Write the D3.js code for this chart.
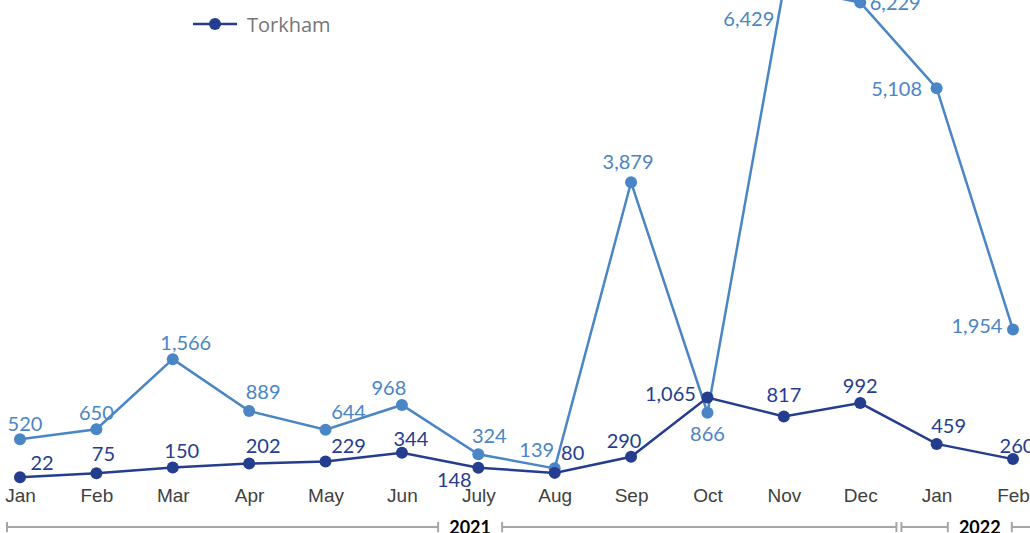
<!DOCTYPE html>
<html>
<head>
<meta charset="utf-8">
<script src="https://cdn.jsdelivr.net/npm/d3@7"></script>
<style>
  body { margin: 0; background: #fff; }
  svg { display: block; font-family: Lato, "Open Sans", sans-serif; }
  .month text { font-size: 19px; fill: #404040; }
  .val { font-size: 20px; }
  .year { font-size: 18px; font-weight: bold; fill: #000; }
  .legend-text { font-family: "Open Sans", sans-serif; font-size: 20px; fill: #767676; }
</style>
</head>
<body>
<div id="chart"></div>
<script>
const months = ['Jan', 'Feb', 'Mar', 'Apr', 'May', 'Jun', 'July', 'Aug', 'Sep', 'Oct', 'Nov', 'Dec', 'Jan', 'Feb'];
const years = [
  { label: '2021', start: 0, end: 11 },
  { label: '2022', start: 12, end: 13 },
];
const torkham = [22, 75, 150, 202, 229, 344, 148, 80, 290, 1065, 817, 992, 459, 260];
const otherCrossing = [520, 650, 1566, 889, 644, 968, 324, 139, 3879, 866, 6429, 6229, 5108, 1954];

// where each value label sits relative to its point
const torkhamLabelOffset = [[22, -15], [7, -20], [9, -18], [14, -19], [23, -16], [9, -15], [-24, 11],
  [18, -21], [-7, -17], [-37, -5], [0, -22], [0, -18], [12, -19], [4, -14]];
const otherLabelOffset = [[5, -16], [0, -17], [13, -17], [14, -20], [23, -19], [-13, -18], [11, -19],
  [-18, -19], [-3, -21], [0, 20], [-35, 31], [35, 0], [-40, 0], [-36, -5]];
const yearLabelShift = [30, 5];

const width = 1030;
const height = 533;
const darkBlue = '#243d8f';
const lightBlue = '#4a85c5';

const svg = d3.select('#chart').append('svg')
  .attr('width', width)
  .attr('height', height);

const x = d3.scalePoint().domain(d3.range(months.length)).range([20, 1013]);
const y = d3.scaleLinear().domain([0, 6000]).range([479, 20]);
const step = x.step();

// month axis
svg.append('g')
  .attr('class', 'month')
  .attr('transform', 'translate(0,486)')
  .call(d3.axisBottom(x).tickSize(0).tickPadding(2).tickFormat((i) => months[i]))
  .call((g) => g.select('.domain').remove());

// year brackets
const bracket = svg.append('g').attr('stroke', '#a6a6a6').attr('stroke-width', 2);
years.forEach((yr, k) => {
  const x0 = Math.max(7, x(yr.start) - step / 2 + (k === 0 ? 25 : 3));
  const x1 = x(yr.end) + step / 2 - (k === 0 ? 2 : -40);
  const cx = (x(yr.start) + x(yr.end)) / 2 + yearLabelShift[k];
  const gap = 32;
  const segs = [[x0, cx - gap], [cx + gap, x1]];
  segs.forEach(([a, b]) => {
    bracket.append('line').attr('x1', a).attr('x2', b).attr('y1', 527).attr('y2', 527);
    bracket.append('line').attr('x1', a).attr('x2', a).attr('y1', 522).attr('y2', 532);
    bracket.append('line').attr('x1', b).attr('x2', b).attr('y1', 522).attr('y2', 532);
  });
  svg.append('text').attr('class', 'year')
    .attr('x', cx).attr('y', 534)
    .attr('text-anchor', 'middle')
    .text(yr.label);
});

const line = d3.line().x((d, i) => x(i)).y((d) => y(d));
const fmt = d3.format(',');

function drawSeries(values, color, offsets) {
  const g = svg.append('g');
  g.append('path')
    .datum(values)
    .attr('fill', 'none')
    .attr('stroke', color)
    .attr('stroke-width', 2.5)
    .attr('d', line);
  g.selectAll('circle')
    .data(values)
    .join('circle')
    .attr('cx', (d, i) => x(i))
    .attr('cy', (d) => y(d))
    .attr('r', 6)
    .attr('fill', color);
  g.selectAll('text')
    .data(values)
    .join('text')
    .attr('class', 'val')
    .attr('x', (d, i) => x(i) + offsets[i][0])
    .attr('y', (d, i) => y(d) + offsets[i][1])
    .attr('text-anchor', 'middle')
    .attr('dominant-baseline', 'central')
    .attr('fill', color)
    .text((d) => fmt(d));
}

drawSeries(otherCrossing, lightBlue, otherLabelOffset);
drawSeries(torkham, darkBlue, torkhamLabelOffset);

// legend
const legend = svg.append('g').attr('transform', 'translate(193,24)');
legend.append('line').attr('x1', 0).attr('x2', 44).attr('stroke', darkBlue).attr('stroke-width', 2.5);
legend.append('circle').attr('cx', 22).attr('r', 6).attr('fill', darkBlue);
legend.append('text').attr('class', 'legend-text')
  .attr('x', 54).attr('dominant-baseline', 'central')
  .text('Torkham');
</script>
</body>
</html>
